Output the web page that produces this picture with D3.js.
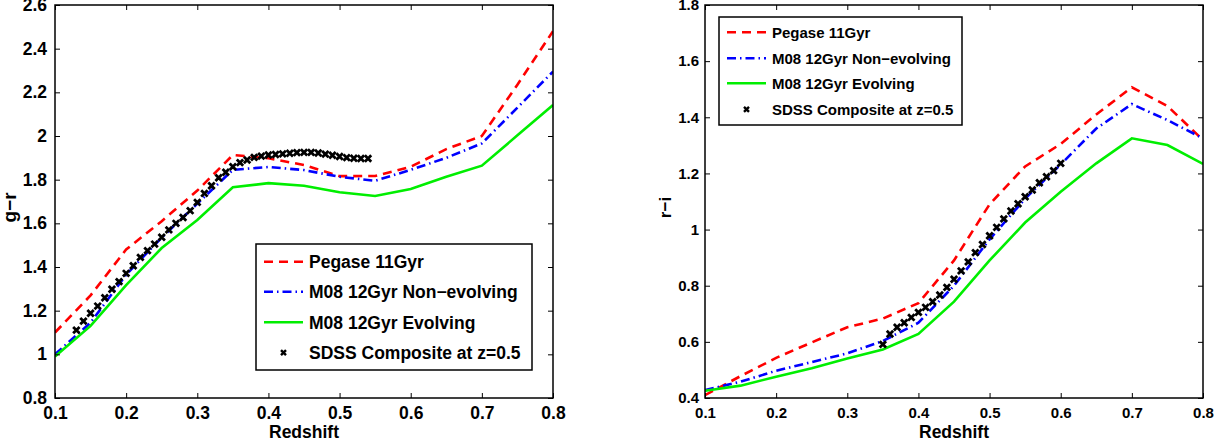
<!DOCTYPE html>
<html>
<head>
<meta charset="utf-8">
<script src="https://cdn.jsdelivr.net/npm/d3@7"></script>
<style>
  body { margin: 0; background: #fff; }
  svg { display: block; font-family: "Liberation Sans", Arial, sans-serif; font-weight: bold; }
</style>
</head>
<body>
<svg id="chart" width="1223" height="446"></svg>
<script>
// model redshift grid
const zModel = [0.1, 0.15, 0.2, 0.25, 0.3, 0.35, 0.4, 0.45, 0.5, 0.55, 0.6, 0.65, 0.7, 0.75, 0.8];

// g-r panel
const grPegase   = [1.10, 1.27, 1.48, 1.61, 1.75, 1.913, 1.898, 1.867, 1.816, 1.817, 1.859, 1.94, 2.00, 2.235, 2.48];
const grNonEvol  = [1.00, 1.145, 1.365, 1.535, 1.69, 1.845, 1.858, 1.844, 1.813, 1.795, 1.845, 1.90, 1.966, 2.13, 2.295];
const grEvol     = [0.99, 1.13, 1.317, 1.487, 1.615, 1.765, 1.784, 1.772, 1.742, 1.725, 1.757, 1.813, 1.864, 2.003, 2.142];
const grSdssZ = [0.13, 0.14, 0.15, 0.16, 0.17, 0.18, 0.19, 0.20, 0.21, 0.22, 0.23, 0.24, 0.25, 0.26,
                 0.27, 0.28, 0.29, 0.30, 0.31, 0.32, 0.33, 0.34, 0.35, 0.36, 0.37, 0.38, 0.39, 0.40,
                 0.41, 0.42, 0.43, 0.44, 0.45, 0.46, 0.47, 0.48, 0.49, 0.50, 0.51, 0.52, 0.53, 0.54];
const grSdss  = [1.111, 1.152, 1.188, 1.221, 1.259, 1.298, 1.333, 1.371, 1.406, 1.444, 1.475, 1.505, 1.536, 1.570,
                 1.600, 1.627, 1.658, 1.696, 1.737, 1.772, 1.809, 1.834, 1.859, 1.878, 1.890, 1.902, 1.908, 1.913,
                 1.915, 1.918, 1.921, 1.924, 1.925, 1.925, 1.922, 1.917, 1.912, 1.906, 1.901, 1.898, 1.897, 1.897];

// r-i panel
const riPegase   = [0.41, 0.478, 0.543, 0.598, 0.652, 0.683, 0.738, 0.89, 1.09, 1.225, 1.305, 1.41, 1.507, 1.44, 1.319];
const riNonEvol  = [0.428, 0.458, 0.497, 0.528, 0.559, 0.603, 0.668, 0.80, 0.965, 1.11, 1.232, 1.36, 1.447, 1.39, 1.325];
const riEvol     = [0.426, 0.444, 0.476, 0.506, 0.541, 0.573, 0.628, 0.743, 0.89, 1.025, 1.135, 1.236, 1.325, 1.301, 1.234];
const riSdssZ = [0.35, 0.36, 0.37, 0.38, 0.39, 0.40, 0.41, 0.42, 0.43, 0.44, 0.45, 0.46, 0.47,
                 0.48, 0.49, 0.50, 0.51, 0.52, 0.53, 0.54, 0.55, 0.56, 0.57, 0.58, 0.59, 0.60];
const riSdss  = [0.591, 0.628, 0.652, 0.668, 0.687, 0.705, 0.723, 0.743, 0.767, 0.794, 0.823, 0.853, 0.885,
                 0.918, 0.947, 0.978, 1.008, 1.038, 1.066, 1.092, 1.117, 1.141, 1.167, 1.188, 1.21, 1.236];

const xTicks  = [0.1, 0.2, 0.3, 0.4, 0.5, 0.6, 0.7, 0.8];
const grTicks = [0.8, 1, 1.2, 1.4, 1.6, 1.8, 2, 2.2, 2.4, 2.6];
const riTicks = [0.4, 0.6, 0.8, 1, 1.2, 1.4, 1.6, 1.8];

const seriesNames = ["Pegase 11Gyr", "M08 12Gyr Non\u2212evolving", "M08 12Gyr Evolving", "SDSS Composite at z=0.5"];
const styles = [
  {color: "#ff0000", dash: "9,6", width: 2.6},
  {color: "#0000ff", dash: "9,4,1.5,4", width: 2.6},
  {color: "#00ee00", dash: null, width: 2.6}
];

const svg = d3.select("#chart");

function crossPath(s) {
  return `M${-s},${-s}L${s},${s}M${-s},${s}L${s},${-s}`;
}

function drawPanel(p) {
  const x = d3.scaleLinear().domain([0.1, 0.8]).range([p.left, p.right]);
  const y = d3.scaleLinear().domain(p.yDomain).range([p.bottom, p.top]);
  const g = svg.append("g");

  const clipId = "clip" + p.id;
  g.append("clipPath").attr("id", clipId).append("rect")
    .attr("x", p.left).attr("y", p.top)
    .attr("width", p.right - p.left).attr("height", p.bottom - p.top);

  const line = d3.line().x(d => x(d[0])).y(d => y(d[1]));
  const plot = g.append("g").attr("clip-path", `url(#${clipId})`);

  p.models.forEach((vals, i) => {
    const st = styles[i];
    plot.append("path")
      .datum(zModel.map((z, j) => [z, vals[j]]))
      .attr("fill", "none")
      .attr("stroke", st.color)
      .attr("stroke-width", st.width)
      .attr("stroke-dasharray", st.dash)
      .attr("d", line);
  });

  plot.selectAll("path.sdss")
    .data(p.sdssZ.map((z, j) => [z, p.sdss[j]]))
    .join("path")
      .attr("class", "sdss")
      .attr("transform", d => `translate(${x(d[0])},${y(d[1])})`)
      .attr("d", crossPath(3.2))
      .attr("stroke", "#000")
      .attr("stroke-width", 2.8)
      .attr("fill", "none");

  // axes, MATLAB style: ticks pointing in on all four sides
  const tick = 5;
  const axB = d3.axisBottom(x).tickValues(xTicks).tickSizeInner(-tick).tickSizeOuter(0).tickPadding(9).tickFormat(d3.format(""));
  const axT = d3.axisTop(x).tickValues(xTicks).tickSizeInner(-tick).tickSizeOuter(0).tickFormat("");
  const axL = d3.axisLeft(y).tickValues(p.yTicks).tickSizeInner(-tick).tickSizeOuter(0).tickPadding(p.yPad).tickFormat(d3.format(""));
  const axR = d3.axisRight(y).tickValues(p.yTicks).tickSizeInner(-tick).tickSizeOuter(0).tickFormat("");

  const gb = g.append("g").attr("transform", `translate(0,${p.bottom})`).call(axB);
  g.append("g").attr("transform", `translate(0,${p.top})`).call(axT);
  const gl = g.append("g").attr("transform", `translate(${p.left},0)`).call(axL);
  g.append("g").attr("transform", `translate(${p.right},0)`).call(axR);

  g.selectAll(".domain").remove();
  g.selectAll(".tick line").attr("stroke", "#000").attr("stroke-width", 1);
  gb.selectAll("text").attr("font-size", p.tickFont).attr("font-family", null).attr("fill", "#000");
  gl.selectAll("text").attr("font-size", p.tickFont).attr("font-family", null).attr("fill", "#000");

  g.append("rect")
    .attr("x", p.left).attr("y", p.top)
    .attr("width", p.right - p.left).attr("height", p.bottom - p.top)
    .attr("fill", "none").attr("stroke", "#000").attr("stroke-width", 1.5);

  g.append("text")
    .attr("x", (p.left + p.right) / 2).attr("y", 438)
    .attr("text-anchor", "middle").attr("font-size", 17.5)
    .text("Redshift");

  g.append("text")
    .attr("transform", `translate(${p.yLabelX},${(p.top + p.bottom) / 2 + 6}) rotate(-90)`)
    .attr("text-anchor", "middle").attr("font-size", p.yLabelFont)
    .text(p.yLabel);

  // legend
  const L = p.legend;
  g.append("rect")
    .attr("x", L.x0).attr("y", L.y0)
    .attr("width", L.x1 - L.x0).attr("height", L.y1 - L.y0)
    .attr("fill", "#fff").attr("stroke", "#000").attr("stroke-width", 1.5);

  seriesNames.forEach((name, i) => {
    const ry = L.rows[i];
    if (i < 3) {
      const st = styles[i];
      g.append("line")
        .attr("x1", L.lineX0).attr("x2", L.lineX1).attr("y1", ry).attr("y2", ry)
        .attr("stroke", st.color).attr("stroke-width", st.width)
        .attr("stroke-dasharray", st.dash);
    } else {
      g.append("path")
        .attr("transform", `translate(${(L.lineX0 + L.lineX1) / 2},${ry})`)
        .attr("d", crossPath(2.5))
        .attr("stroke", "#000").attr("stroke-width", 2.4);
    }
    g.append("text")
      .attr("x", L.textX).attr("y", ry)
      .attr("dy", "0.36em")
      .attr("font-size", L.font)
      .text(name);
  });
}

drawPanel({
  id: "gr", left: 55, right: 553, top: 5, bottom: 398,
  yDomain: [0.8, 2.6], yTicks: grTicks, yPad: 8,
  tickFont: 17.5, yLabel: "g\u2212r", yLabelX: 16, yLabelFont: 19,
  models: [grPegase, grNonEvol, grEvol], sdssZ: grSdssZ, sdss: grSdss,
  legend: {x0: 256, x1: 532, y0: 244, y1: 370, rows: [261.7, 291.7, 322.3, 352.7],
           lineX0: 264, lineX1: 303, textX: 309, font: 17.5}
});

drawPanel({
  id: "ri", left: 705, right: 1203, top: 5, bottom: 398,
  yDomain: [0.4, 1.8], yTicks: riTicks, yPad: 6,
  tickFont: 15, yLabel: "r\u2212i", yLabelX: 671, yLabelFont: 17,
  models: [riPegase, riNonEvol, riEvol], sdssZ: riSdssZ, sdss: riSdss,
  legend: {x0: 719, x1: 962, y0: 17, y1: 125, rows: [32.3, 58.3, 83.3, 109.3],
           lineX0: 727, lineX1: 766, textX: 772, font: 15}
});
</script>
</body>
</html>
